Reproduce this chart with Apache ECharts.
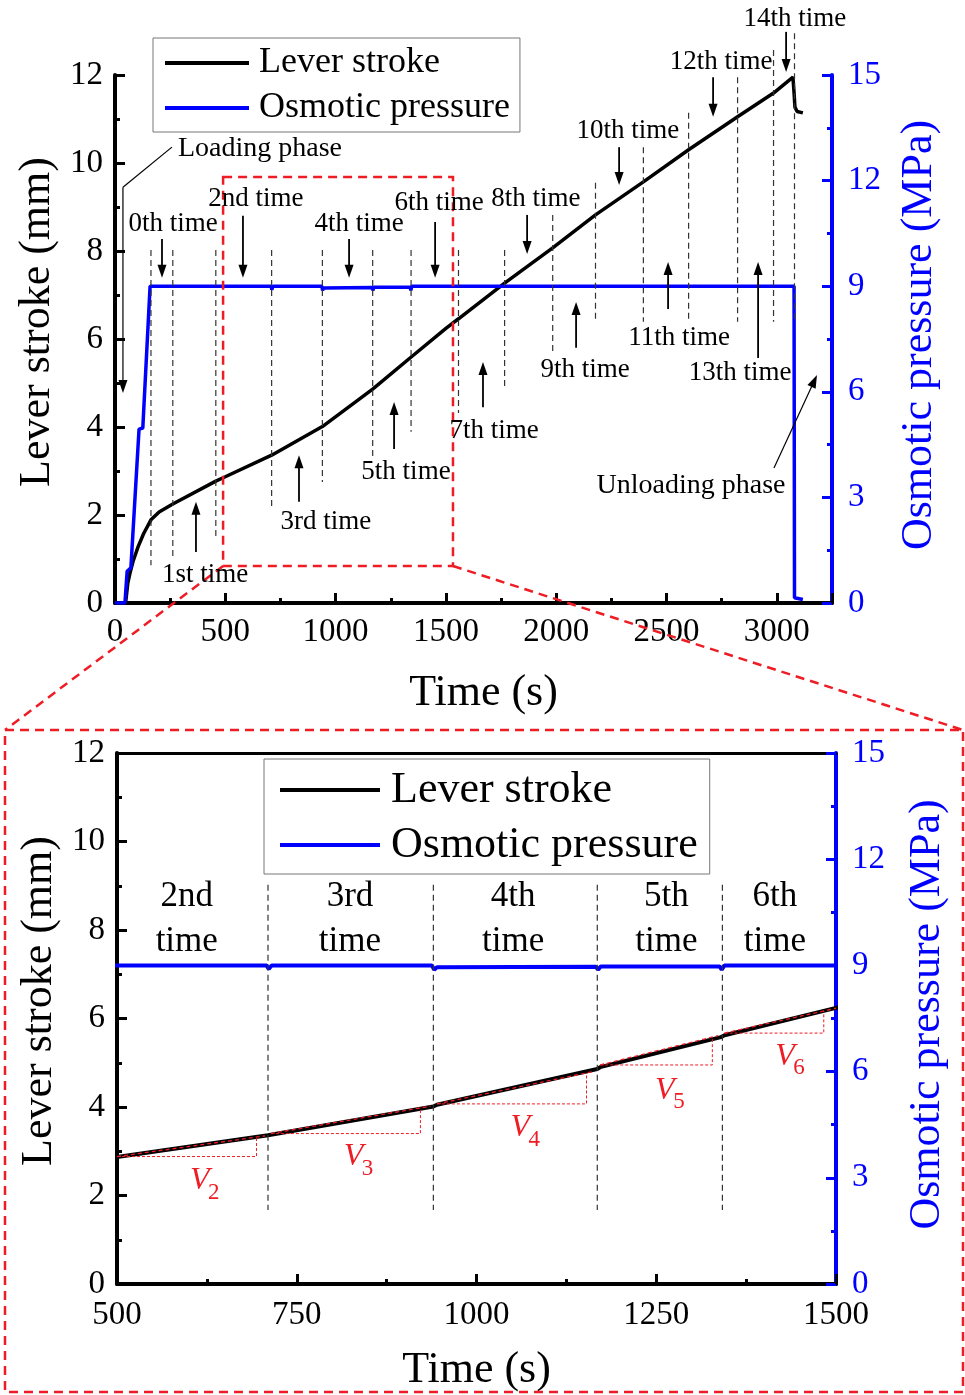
<!DOCTYPE html>
<html><head><meta charset="utf-8">
<script src="https://cdn.jsdelivr.net/npm/echarts@6/dist/echarts.min.js"></script>
<style>html,body{margin:0;padding:0;background:#fff}#c{width:965px;height:1395px}</style>
</head><body><div id="c"></div>
<script>
// ---------- data ----------
const leverT = [0, 48, 58, 68, 82, 104, 130, 163, 200, 262, 457, 500, 710, 712, 940, 945, 1168, 1172, 1340, 1345, 1500, 1557, 1766, 1984, 2178, 2395, 2600, 2822, 2985, 3073, 3078, 3082, 3092, 3118];
const leverY = [0, 0, 0.45, 0.68, 0.95, 1.27, 1.58, 1.89, 2.07, 2.25, 2.77, 2.87, 3.36, 3.35, 4.01, 4.05, 4.86, 4.90, 5.58, 5.62, 6.24, 6.46, 7.27, 8.07, 8.82, 9.57, 10.30, 11.05, 11.59, 11.95, 11.60, 11.27, 11.17, 11.14];
const osmT = [0, 45, 55, 59, 72, 109, 126, 159, 708, 711, 715, 938, 941, 945, 1166, 1169, 1173, 1338, 1341, 1345, 3078, 3080, 3084, 3118];
const osmP = [0, 0, 0.9, 0.94, 1.0, 4.94, 4.97, 9.0, 9.0, 8.9, 9.0, 9.0, 8.88, 8.95, 8.96, 8.88, 8.97, 8.97, 8.88, 9.0, 9.0, 0.15, 0.1, 0.1];

// cycle boundaries (s) and extents of the dashed markers (mm) in the overview
const cycleBounds = [163, 262, 457, 710, 940, 1168, 1342, 1557, 1766, 1984, 2178, 2395, 2600, 2822, 2985, 3080];
const boundTopY = [8.02, 8.02, 8.02, 8.02, 8.02, 8.02, 8.02, 8.02, 8.02, 8.82, 9.55, 10.36, 11.14, 11.95, 12.57, 12.95];
const boundBotY = [0.86, 1.05, 1.50, 2.18, 2.75, 3.32, 3.89, 4.32, 4.84, 5.68, 6.39, 6.39, 6.39, 6.39, 6.39, 6.45];

const cycleNames = ['0th time', '1st time', '2nd time', '3rd time', '4th time', '5th time', '6th time', '7th time', '8th time', '9th time', '10th time', '11th time', '12th time', '13th time', '14th time'];
const cycleLabelT = [263, 408, 639, 956, 1106, 1319, 1469, 1718, 1908, 2131, 2325, 2557, 2747, 2833, 3082];
const cycleLabelY = [8.61, 0.64, 9.18, 1.84, 8.61, 2.98, 9.09, 3.91, 9.18, 5.30, 10.73, 6.02, 12.30, 5.23, 13.27];
const arrowT = [213, 367, 580, 834, 1061, 1265, 1451, 1668, 1868, 2090, 2285, 2507, 2711, 2915, 3042];
const arrowFromY = [8.27, 1.16, 8.80, 2.30, 8.27, 3.50, 8.66, 4.45, 8.82, 5.80, 10.36, 6.68, 11.95, 5.57, 12.98];
const arrowToY = [7.39, 2.30, 7.39, 3.36, 7.39, 4.57, 7.39, 5.48, 7.93, 6.84, 9.50, 7.75, 11.05, 7.75, 12.07];

// zoomed panel
const zoomNames = ['2nd\ntime', '3rd\ntime', '4th\ntime', '5th\ntime', '6th\ntime'];
const zoomLabelT = [597, 824, 1051, 1264, 1415];
const vSub = ['2', '3', '4', '5', '6'];
const vX0 = [500, 714, 945, 1172, 1345];
const vY0 = [2.88, 3.40, 4.07, 4.95, 5.67];
const vX1 = [694, 922, 1153, 1328, 1483];
const vY1 = [3.32, 3.98, 4.77, 5.58, 6.17];
const vXe = [706, 936, 1164, 1336, 1500];
const vLabT = [615, 829, 1061, 1262, 1429];
const vLabY = [2.33, 2.87, 3.53, 4.38, 5.15];

// ---------- chart ----------
const FONT = "'Liberation Serif','Times New Roman',serif";
const BLUE = '#0000ff', RED = '#ee1c25';
const zip = (a, b) => a.map((v, i) => [v, b[i]]);
const chart = echarts.init(document.getElementById('c'), null, {renderer: 'canvas'});

function xAxisCfg(gi, min, max, interval, nameGap, namePad, labelMargin) {
  return {
    type: 'value', gridIndex: gi, min, max, interval, position: 'bottom',
    name: 'Time (s)', nameLocation: 'middle', nameGap,
    nameTextStyle: {fontFamily: FONT, fontSize: 44, color: '#000', padding: namePad},
    axisLine: {show: true, onZero: false, lineStyle: {color: '#000', width: 4}},
    axisTick: {inside: true, length: 10, lineStyle: {color: '#000', width: 3}},
    minorTick: {show: true, splitNumber: 2, length: 5, lineStyle: {color: '#000', width: 3}},
    axisLabel: {fontFamily: FONT, fontSize: 33, color: '#000', margin: labelMargin, hideOverlap: false,
      formatter: v => (v > (gi === 0 ? 3000 : 1500) ? '' : String(v))},
    splitLine: {show: false}
  };
}
function yLeft(gi, nameGap, namePad) {
  return {
    type: 'value', gridIndex: gi, min: 0, max: 12, interval: 2, position: 'left',
    name: 'Lever stroke (mm)', nameLocation: 'middle', nameGap, nameRotate: 90,
    nameTextStyle: {fontFamily: FONT, fontSize: 44, color: '#000', padding: namePad},
    axisLine: {show: true, onZero: false, lineStyle: {color: '#000', width: 4}},
    axisTick: {inside: true, length: 10, lineStyle: {color: '#000', width: 3}},
    minorTick: {show: true, splitNumber: 2, length: 5, lineStyle: {color: '#000', width: 3}},
    axisLabel: {fontFamily: FONT, fontSize: 33, color: '#000', margin: 12},
    splitLine: {show: false}
  };
}
function yRight(gi, nameGap, namePad) {
  return {
    type: 'value', gridIndex: gi, min: 0, max: 15, interval: 3, position: 'right',
    name: 'Osmotic pressure (MPa)', nameLocation: 'middle', nameGap, nameRotate: 90,
    nameTextStyle: {fontFamily: FONT, fontSize: 44, color: BLUE, padding: namePad},
    axisLine: {show: true, onZero: false, lineStyle: {color: BLUE, width: 4}},
    axisTick: {inside: true, length: 10, lineStyle: {color: BLUE, width: 3}},
    minorTick: {show: true, splitNumber: 2, length: 5, lineStyle: {color: BLUE, width: 3}},
    axisLabel: {fontFamily: FONT, fontSize: 33, color: BLUE, margin: 16},
    splitLine: {show: false}
  };
}

const leverData = zip(leverT, leverY);
const osmData = zip(osmT, osmP);

const series = [
  {name: 'Lever stroke', type: 'line', xAxisIndex: 0, yAxisIndex: 0, data: leverData, symbol: 'none', lineStyle: {color: '#000', width: 3.5}, itemStyle: {color: '#000'}, z: 3},
  {name: 'Osmotic pressure', type: 'line', xAxisIndex: 0, yAxisIndex: 1, data: osmData, symbol: 'none', lineStyle: {color: BLUE, width: 3.5}, itemStyle: {color: BLUE}, z: 4},
  {name: 'Lever stroke', type: 'line', xAxisIndex: 1, yAxisIndex: 2, data: leverData, symbol: 'none', clip: true, lineStyle: {color: '#000', width: 4}, itemStyle: {color: '#000'}, z: 3},
  {name: 'Osmotic pressure', type: 'line', xAxisIndex: 1, yAxisIndex: 3, data: osmData, symbol: 'none', clip: true, lineStyle: {color: BLUE, width: 4}, itemStyle: {color: BLUE}, z: 4}
];
vSub.forEach((s, i) => {
  const slope = (vY1[i] - vY0[i]) / (vX1[i] - vX0[i]);
  series.push({name: 'fit' + s, type: 'line', xAxisIndex: 1, yAxisIndex: 2, symbol: 'none', silent: true, z: 6,
    data: [[vX0[i], vY0[i]], [vXe[i], vY0[i] + slope * (vXe[i] - vX0[i])]],
    lineStyle: {color: RED, width: 1.3, type: [4, 3]}});
  series.push({name: 'tri' + s, type: 'line', xAxisIndex: 1, yAxisIndex: 2, symbol: 'none', silent: true, z: 6,
    data: [[vX0[i], vY0[i]], [vX1[i], vY0[i]], [vX1[i], vY1[i]]],
    lineStyle: {color: RED, width: 1, type: [3, 2]}});
});

const legendBase = {
  data: ['Lever stroke', 'Osmotic pressure'], orient: 'vertical', icon: 'rect', itemHeight: 4,
  borderColor: '#777', borderWidth: 1, selectedMode: false, backgroundColor: '#fff'
};

chart.setOption({
  animation: false,
  backgroundColor: '#fff',
  grid: [
    {left: 115, top: 75, width: 717, height: 528, containLabel: false},
    {left: 117, top: 753, width: 719, height: 531, containLabel: false}
  ],
  xAxis: [
    xAxisCfg(0, 0, 3250, 500, 68, [0, 0, 0, 20], 13),
    xAxisCfg(1, 500, 1500, 250, 64, [0, 0, 0, 0], 15),
    {type: 'value', gridIndex: 1, min: 500, max: 1500, position: 'top',
     axisLine: {show: true, onZero: false, lineStyle: {color: '#000', width: 3}},
     axisTick: {show: false}, axisLabel: {show: false}, splitLine: {show: false}}
  ],
  yAxis: [yLeft(0, 56, [0, 0, 0, 34]), yRight(0, 65, [0, 0, 0, 8]), yLeft(1, 52, [0, 0, 0, 35]), yRight(1, 69, [0, 0, 0, 8])],
  legend: [
    Object.assign({}, legendBase, {left: 153, top: 38, itemWidth: 84, itemGap: 5, padding: [5, 10, 4, 12],
      textStyle: {fontFamily: FONT, fontSize: 36, color: '#000', lineHeight: 40, padding: [0, 0, 0, 5]}}),
    Object.assign({}, legendBase, {left: 264, top: 759, itemWidth: 100, itemGap: 7, padding: [7, 12, 5, 16],
      textStyle: {fontFamily: FONT, fontSize: 44, color: '#000', lineHeight: 48, padding: [0, 0, 0, 6]}})
  ],
  series
});

// ---------- annotations (placed from data coordinates) ----------
const P0 = (t, y) => chart.convertToPixel({xAxisIndex: 0, yAxisIndex: 0}, [t, y]);
const P1 = (t, y) => chart.convertToPixel({xAxisIndex: 1, yAxisIndex: 2}, [t, y]);
const g = [];
const DASH = {stroke: '#333', lineWidth: 1.2, lineDash: [6, 4]};
const REDDASH = {stroke: RED, lineWidth: 2.5, lineDash: [9, 6], fill: null};
function line(a, b, style) { g.push({type: 'line', z: 50, silent: true, shape: {x1: a[0], y1: a[1], x2: b[0], y2: b[1]}, style}); }
function head(a, b) {
  const dx = b[0] - a[0], dy = b[1] - a[1], L = Math.hypot(dx, dy), ux = dx / L, uy = dy / L;
  const hl = 13, hw = 4.5;
  const bx = b[0] - ux * hl, by = b[1] - uy * hl;
  g.push({type: 'polygon', z: 51, silent: true, shape: {points: [[b[0], b[1]], [bx - uy * hw, by + ux * hw], [bx + uy * hw, by - ux * hw]]}, style: {fill: '#000'}});
  return [bx + ux * 2, by + uy * 2];
}
function arrow(a, b, w) { const e = head(a, b); line(a, e, {stroke: '#000', lineWidth: w || 1.8}); }
function text(p, s, size, color, extra) {
  g.push({type: 'text', z: 60, silent: true, x: p[0], y: p[1],
    style: Object.assign({text: s, fontFamily: FONT, fontSize: size, fill: color || '#000', align: 'center', verticalAlign: 'middle'}, extra || {})});
}

// overview panel
cycleBounds.forEach((t, i) => line(P0(t, boundTopY[i]), P0(t, boundBotY[i]), DASH));
cycleNames.forEach((s, i) => {
  text(P0(cycleLabelT[i], cycleLabelY[i]), s, 27);
  arrow(P0(arrowT[i], arrowFromY[i]), P0(arrowT[i], arrowToY[i]));
});
text(P0(657, 10.32), 'Loading phase', 28);
line(P0(258, 10.36), P0(36, 9.45), {stroke: '#000', lineWidth: 1.2});
arrow(P0(36, 9.45), P0(36, 4.77), 1.2);
text(P0(2611, 2.66), 'Unloading phase', 28);
arrow(P0(2987, 3.07), P0(3182, 5.18), 1.2);

// zoom frame + connectors
const rA = P0(490, 9.68), rB = P0(1532, 0.84);
g.push({type: 'rect', z: 55, silent: true, shape: {x: rA[0], y: rA[1], width: rB[0] - rA[0], height: rB[1] - rA[1]}, style: REDDASH});
const boxL = 5, boxT = 730, boxR = 963, boxB = 1392;
line([rA[0], rB[1]], [boxL, boxT], REDDASH);
line([rB[0], rB[1]], [boxR, boxT], REDDASH);
g.push({type: 'rect', z: 55, silent: true, shape: {x: boxL, y: boxT, width: boxR - boxL, height: boxB - boxT}, style: REDDASH});

// detail panel
cycleBounds.filter(t => t > 500 && t < 1500).forEach(t => line(P1(t, 9.02), P1(t, 1.67), DASH));
zoomNames.forEach((s, i) => text(P1(zoomLabelT[i], 8.25), s, 35, '#000', {lineHeight: 45}));
vSub.forEach((s, i) => {
  const p = P1(vLabT[i], vLabY[i]);
  text(p, 'V', 32, RED, {fontStyle: 'italic'});
  text([p[0] + 14, p[1] + 12], s, 23, RED);
});

chart.setOption({graphic: {elements: g}});
</script>
</body></html>
